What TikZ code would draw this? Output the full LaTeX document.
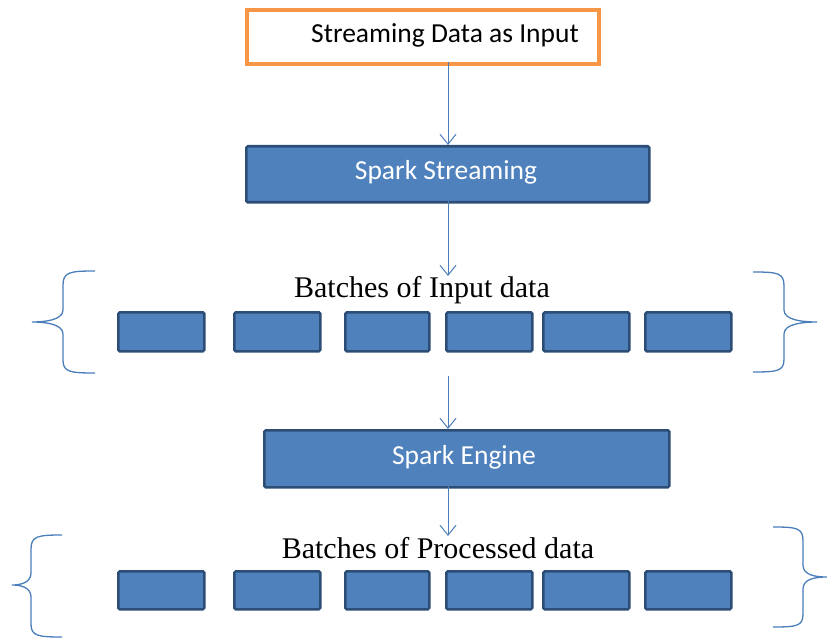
\documentclass[tikz,border=0pt]{standalone}
\usepackage{fontspec}
\setmainfont{Liberation Serif}
\newfontfamily\calib{Carlito}
\usetikzlibrary{arrows.meta}
\definecolor{boxfill}{HTML}{4F81BD}
\definecolor{boxline}{HTML}{2C4D75}
\definecolor{orangeline}{HTML}{F79646}
\definecolor{arrowblue}{HTML}{4A7EBB}
\tikzset{
  bluebox/.style={draw=boxline, fill=boxfill, line width=2.6pt, rounded corners=1.5pt, inner sep=0pt},
  titlebox/.style={draw=orangeline, fill=white, line width=3.8pt, inner sep=0pt},
  flowarrow/.style={draw=arrowblue, line width=1pt, -{Straight Barb[length=10pt,width=16pt,line width=1pt]}},
  bracestyle/.style={draw=arrowblue, line width=1.3pt},
  boxtext/.style={font=\calib\fontsize{27.5}{30}\selectfont, text=white},
  serifl/.style={font=\fontsize{30}{34}\selectfont, text=black},
}
\begin{document}
\begin{tikzpicture}[x=1pt,y=-1pt]
\useasboundingbox (0,0) rectangle (827,639);
% top box
\node[titlebox, minimum width=352pt, minimum height=54pt, anchor=north west] (input) at (245,8) {};
\node[font=\calib\fontsize{27.5}{30}\selectfont] (inputtxt) at (445,35) {Streaming Data as Input};
% spark streaming
\node[bluebox, minimum width=403pt, minimum height=56pt, anchor=north west] (ss) at (245,145) {};
\node[boxtext] (sstxt) at (446,172) {Spark Streaming};
% batches input
\node[serifl] (bin) at (422,290) {Batches of Input data};
\foreach \x/\w [count=\i] in {117/86,233/86,344/84,445/86,542/86,644/86}{
  \node[bluebox, minimum width=\w pt, minimum height=39pt, anchor=north west] (a\i) at (\x,311) {};
}
% spark engine
\node[bluebox, minimum width=405pt, minimum height=57pt, anchor=north west] (se) at (263,429) {};
\node[boxtext] (setxt) at (464,457) {Spark Engine};
% batches processed
\node[serifl] (bpr) at (438,548) {Batches of Processed data};
\foreach \x/\w [count=\i] in {117/86,233/86,344/84,445/86,542/86,644/86}{
  \node[bluebox, minimum width=\w pt, minimum height=38pt, anchor=north west] (b\i) at (\x,570) {};
}
% arrows
\coordinate (s1) at (448,62);
\coordinate (e1) at (448,145);
\coordinate (s2) at (448,201);
\coordinate (e2) at (448,276);
\coordinate (s3) at (448,376);
\coordinate (e3) at (448,429);
\coordinate (s4) at (448,486);
\coordinate (e4) at (448,536);
\draw[flowarrow] (s1) -- (e1);
\draw[flowarrow] (s2) -- (e2);
\draw[flowarrow] (s3) -- (e3);
\draw[flowarrow] (s4) -- (e4);
% braces
\draw[bracestyle] (95,271) .. controls (70,271) and (63,272) .. (63,285) -- (63,310) .. controls (63,320) and (45,322) .. (32,322)
  .. controls (45,322) and (63,324) .. (63,334) -- (63,360) .. controls (63,372) and (70,373) .. (95,373);
\draw[bracestyle] (753,272) .. controls (778,272) and (784,273) .. (784,286) -- (784,310) .. controls (784,320) and (802,322) .. (817,322)
  .. controls (802,322) and (784,324) .. (784,334) -- (784,359) .. controls (784,371) and (778,372) .. (753,372);
\draw[bracestyle] (62,535) .. controls (38,535) and (31,536) .. (31,549) -- (31,573) .. controls (31,583) and (20,585) .. (12,585)
  .. controls (20,585) and (31,587) .. (31,597) -- (31,624) .. controls (31,636) and (38,637) .. (62,637);
\draw[bracestyle] (773,527) .. controls (797,527) and (803,528) .. (803,541) -- (803,565) .. controls (803,575) and (815,577) .. (827,577)
  .. controls (815,577) and (803,579) .. (803,589) -- (803,614) .. controls (803,626) and (797,627) .. (773,627);
\end{tikzpicture}
\end{document}
